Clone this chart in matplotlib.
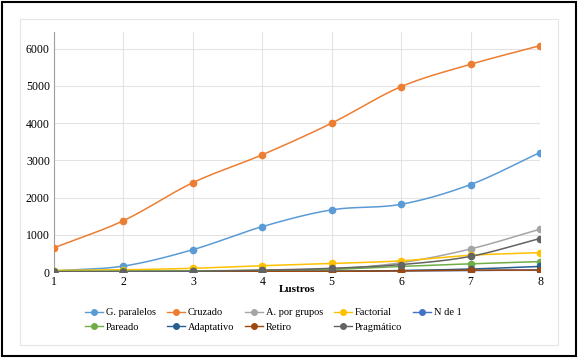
import numpy as np
import matplotlib
matplotlib.use("Agg")
from matplotlib import pyplot as plt  # noqa
from matplotlib.patches import Rectangle  # noqa

lustros = [1, 2, 3, 4, 5, 6, 7, 8]
g_paralelos = [30, 160, 600, 1220, 1670, 1820, 2350, 3210]
cruzado = [650, 1380, 2400, 3150, 4000, 4980, 5580, 6080]
a_por_grupos = [10, 15, 20, 40, 80, 250, 620, 1150]
factorial = [40, 60, 100, 170, 230, 300, 450, 520]
n_de_1 = [5, 5, 10, 15, 20, 30, 40, 60]
pareado = [20, 25, 30, 50, 70, 150, 220, 280]
adaptativo = [5, 5, 5, 10, 15, 40, 80, 150]
retiro = [5, 5, 5, 10, 15, 30, 50, 50]
pragmatico = [5, 10, 20, 50, 100, 200, 420, 900]

series = [
    ('G. paralelos', g_paralelos, '#5B9BD5'),
    ('Cruzado', cruzado, '#ED7D31'),
    ('A. por grupos', a_por_grupos, '#A5A5A5'),
    ('Factorial', factorial, '#FFC000'),
    ('N de 1', n_de_1, '#4472C4'),
    ('Pareado', pareado, '#70AD47'),
    ('Adaptativo', adaptativo, '#255E91'),
    ('Retiro', retiro, '#9E480E'),
    ('Pragmático', pragmatico, '#636363'),
]


def smooth(x, y, n=20):
    # catmull-rom curve through the points, like excel's smoothed line
    x = np.asarray(x, float)
    y = np.asarray(y, float)
    px = np.concatenate([[2 * x[0] - x[1]], x, [2 * x[-1] - x[-2]]])
    py = np.concatenate([[2 * y[0] - y[1]], y, [2 * y[-1] - y[-2]]])
    xs, ys = [], []
    t = np.linspace(0, 1, n)
    for i in range(1, len(px) - 2):
        for p, out in ((px, xs), (py, ys)):
            p0, p1, p2, p3 = p[i - 1], p[i], p[i + 1], p[i + 2]
            out.extend(0.5 * ((2 * p1) + (-p0 + p2) * t
                              + (2 * p0 - 5 * p1 + 4 * p2 - p3) * t ** 2
                              + (-p0 + 3 * p1 - 3 * p2 + p3) * t ** 3))
    return xs, ys


plt.rcParams['font.family'] = ['Liberation Serif', 'DejaVu Serif']
fig = plt.figure(figsize=(5.79, 3.6), dpi=100)
ax = fig.add_axes([0.0933, 0.2444, 0.8394, 0.667])

handles = []
for name, vals, col in series:
    sx, sy = smooth(lustros, vals)
    ax.plot(sx, sy, color=col, lw=1.1, zorder=3)
    ax.plot(lustros, vals, color=col, marker='o', ms=4.5, ls='none', zorder=4)
    handles.append(plt.Line2D([], [], color=col, lw=1.0, marker='o', ms=4))

ax.set_xlim(1, 8)
ax.set_ylim(0, 6450)
ax.set_xticks(lustros)
ax.set_yticks(range(0, 7000, 1000))
ax.grid(True, color='#E3E3E3', lw=0.8, zorder=0)
for s in ['top', 'right', 'bottom']:
    ax.spines[s].set_visible(False)
ax.spines['left'].set_color('#A0A0A0')
ax.axhline(0, color='#A0A0A0', lw=0.8, zorder=2)
ax.tick_params(length=0, labelsize=8.5, pad=3)
ax.set_xlabel('Lustros', fontsize=8, fontweight='bold', labelpad=-2)

order = [0, 5, 1, 6, 2, 7, 3, 8, 4]
fig.legend([handles[i] for i in order], [series[i][0] for i in order], ncol=5,
           loc='upper center', bbox_to_anchor=(0.472, 0.17), frameon=False,
           fontsize=7.5, handlelength=1.75, handletextpad=0.3, columnspacing=1.0,
           labelspacing=0.5)

fig.patches.append(Rectangle((0.034, 0.042), 0.93, 0.905, transform=fig.transFigure,
                             fill=False, ec='#E6E6E6', lw=0.8))
fig.patches.append(Rectangle((0.004, 0.012), 0.99, 0.982, transform=fig.transFigure,
                             fill=False, ec='black', lw=1.5))

plt.savefig('out.png', dpi=100)
